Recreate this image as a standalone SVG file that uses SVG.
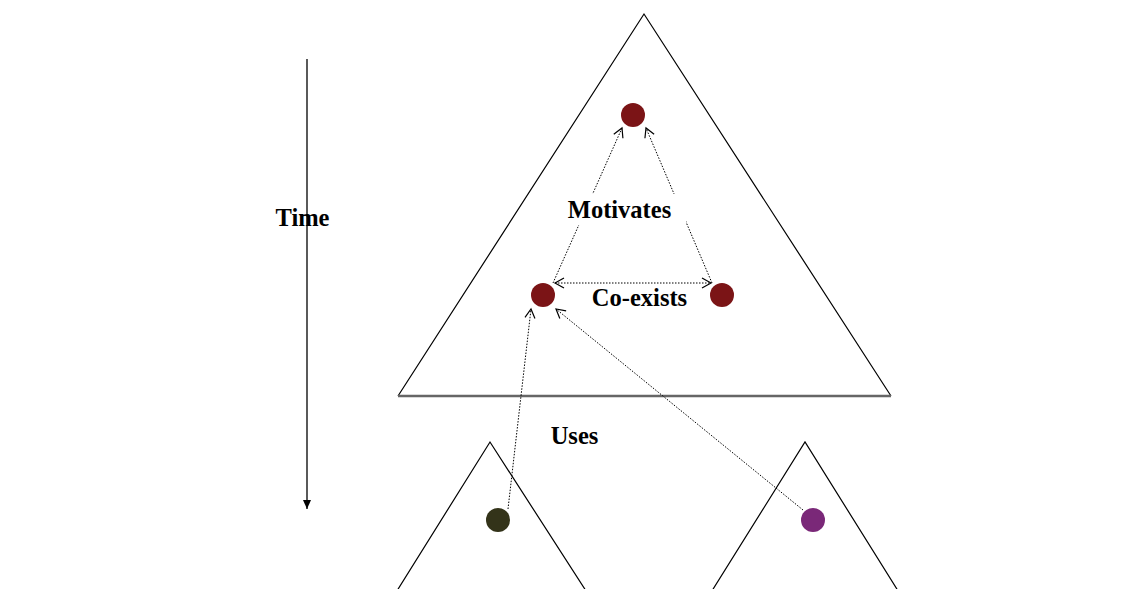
<svg xmlns="http://www.w3.org/2000/svg" width="1138" height="589" viewBox="0 0 1138 589">
<style>
.tri{fill:none;stroke:#000;stroke-width:1.2}
.dot{stroke:#000;stroke-width:1;stroke-dasharray:1.5 1.5;fill:none}
.lbl{font-family:"Liberation Serif","Times New Roman",serif;font-weight:bold;font-size:24.5px;fill:#000}
.red{fill:#7b1416}
</style>
<defs>
<marker id="open" markerUnits="userSpaceOnUse" markerWidth="14" markerHeight="14" refX="10" refY="6" orient="auto-start-reverse" viewBox="0 0 14 12">
<path d="M1,1 L10,6 L1,11" fill="none" stroke="#000" stroke-width="1.2"/>
</marker>
<marker id="solid" markerUnits="userSpaceOnUse" markerWidth="10" markerHeight="10" refX="9" refY="4" orient="auto" viewBox="0 0 10 8">
<path d="M0,0 L9,4 L0,8 Z" fill="#000"/>
</marker>
</defs>
<rect width="1138" height="589" fill="#fff"/>
<g id="top-triangle">
<polyline class="tri" points="398,396 644,14 891,396"/>
<line x1="398" y1="396" x2="891" y2="396" stroke="#666" stroke-width="2.5"/>
</g>
<g id="left-triangle"><polyline class="tri" points="395,594 490,442 588,594"/></g>
<g id="right-triangle"><polyline class="tri" points="710,594 805,442 900,594"/></g>
<g id="connectors">
<line class="dot" x1="553" y1="283" x2="622" y2="128" marker-end="url(#open)"/>
<line class="dot" x1="712" y1="283" x2="646" y2="128" marker-end="url(#open)"/>
<line class="dot" x1="555" y1="283" x2="711" y2="283" marker-start="url(#open)" marker-end="url(#open)"/>
<line class="dot" x1="508" y1="509" x2="531" y2="309" marker-end="url(#open)"/>
<line class="dot" x1="803" y1="510" x2="556" y2="309" marker-end="url(#open)"/>
<line x1="307" y1="59" x2="307" y2="509" stroke="#000" stroke-width="1.3" marker-end="url(#solid)"/>
</g>
<g id="label-motivates">
<rect x="562" y="194" width="124" height="31" fill="#fff"/>
<text class="lbl" x="619.5" y="218" text-anchor="middle">Motivates</text>
</g>
<g id="label-coexists"><text class="lbl" x="639.5" y="306" text-anchor="middle">Co-exists</text></g>
<g id="label-uses"><text class="lbl" x="574.5" y="444" text-anchor="middle">Uses</text></g>
<g id="label-time"><text class="lbl" x="302.5" y="226" text-anchor="middle">Time</text></g>
<g id="node-top"><circle class="red" cx="633" cy="115" r="12"/></g>
<g id="node-left"><circle class="red" cx="543" cy="295" r="12"/></g>
<g id="node-right"><circle class="red" cx="722" cy="295" r="12"/></g>
<g id="node-olive"><circle cx="498" cy="520" r="12" fill="#333319"/></g>
<g id="node-purple"><circle cx="813" cy="520" r="12" fill="#7a2878"/></g>
</svg>
